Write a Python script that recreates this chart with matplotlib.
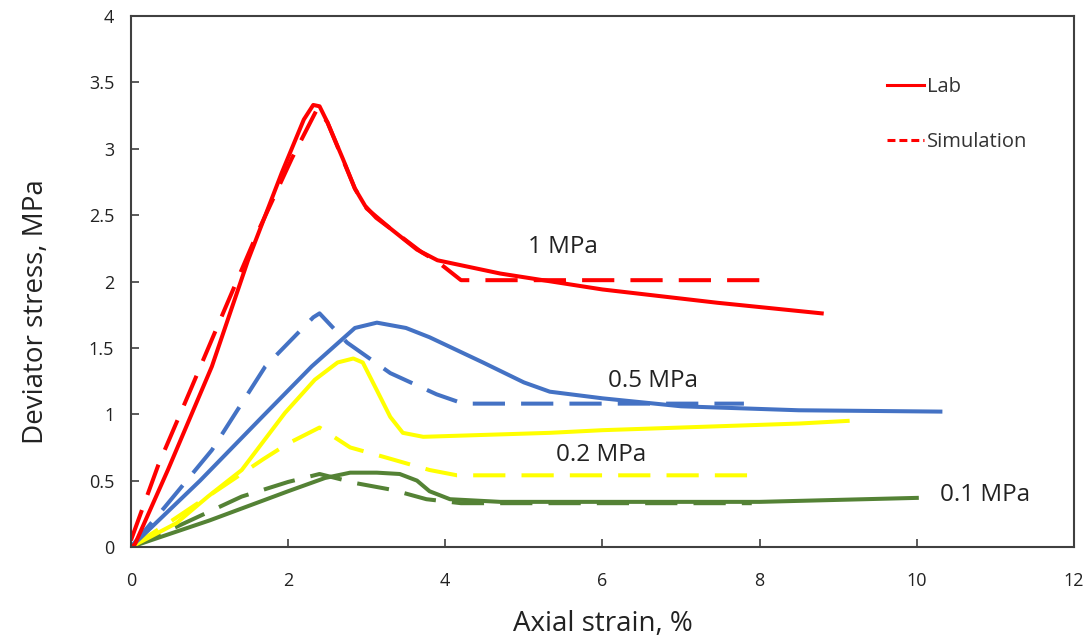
import matplotlib
matplotlib.use("Agg")
import matplotlib.pyplot as plt

plt.rcParams['font.family'] = ['Open Sans', 'DejaVu Sans']

# lab curves (axial strain %, deviator stress MPa)
lab_1_x = [0, 0.05, 0.47, 1.03, 1.49, 1.92, 2.2, 2.32, 2.4, 2.5, 2.7, 2.85, 2.98, 3.12, 3.3, 3.64, 3.9, 4.7, 6.0, 7.46, 8.79]
lab_1_y = [0, 0.02, 0.58, 1.36, 2.16, 2.82, 3.22, 3.33, 3.32, 3.2, 2.92, 2.7, 2.57, 2.48, 2.4, 2.24, 2.16, 2.06, 1.94, 1.84, 1.76]

lab_05_x = [0, 0.88, 1.67, 2.3, 2.85, 3.13, 3.5, 3.8, 4.48, 5.0, 5.33, 6.0, 7.0, 8.5, 10.3]
lab_05_y = [0, 0.5, 0.98, 1.36, 1.65, 1.69, 1.65, 1.58, 1.39, 1.24, 1.17, 1.12, 1.06, 1.03, 1.02]

lab_02_x = [0, 0.58, 0.98, 1.41, 1.96, 2.34, 2.63, 2.83, 2.95, 3.13, 3.3, 3.46, 3.72, 5.33, 6.0, 8.5, 9.12]
lab_02_y = [0, 0.18, 0.38, 0.58, 1.01, 1.26, 1.39, 1.42, 1.39, 1.18, 0.98, 0.86, 0.83, 0.86, 0.88, 0.93, 0.95]

lab_01_x = [0, 1.0, 2.0, 2.47, 2.79, 3.13, 3.42, 3.64, 3.8, 4.06, 4.7, 8.0, 10.0]
lab_01_y = [0, 0.2, 0.42, 0.52, 0.56, 0.56, 0.55, 0.5, 0.42, 0.36, 0.34, 0.34, 0.37]

# simulation curves
sim_1_x = [0, 0.35, 0.77, 1.2, 1.62, 2.05, 2.37, 2.5, 2.85, 3.0, 3.3, 3.7, 3.9, 4.2, 8.0]
sim_1_y = [0.05, 0.62, 1.2, 1.8, 2.38, 2.93, 3.3, 3.2, 2.7, 2.55, 2.4, 2.22, 2.15, 2.01, 2.01]

sim_05_x = [0, 0.43, 1.03, 1.71, 2.32, 2.4, 2.75, 3.3, 3.89, 4.23, 7.8]
sim_05_y = [0, 0.3, 0.73, 1.36, 1.73, 1.76, 1.54, 1.31, 1.15, 1.08, 1.08]

sim_02_x = [0, 0.5, 1.43, 1.68, 2.0, 2.4, 2.79, 3.21, 3.8, 4.15, 7.84]
sim_02_y = [0, 0.19, 0.56, 0.66, 0.78, 0.9, 0.75, 0.68, 0.58, 0.54, 0.54]

sim_01_x = [0, 0.5, 1.41, 2.0, 2.4, 2.87, 3.33, 3.76, 4.2, 7.9]
sim_01_y = [0, 0.13, 0.38, 0.49, 0.55, 0.48, 0.43, 0.36, 0.33, 0.33]

labels = ['1 MPa', '0.5 MPa', '0.2 MPa', '0.1 MPa']
label_x = [5.5, 6.64, 5.98, 10.87]
label_y = [2.26, 1.25, 0.69, 0.39]

RED = '#FF0000'
BLUE = '#4472C4'
YELLOW = '#FFFF00'
GREEN = '#548235'

fig = plt.figure(figsize=(10.91, 6.43), dpi=100)
ax = fig.add_axes([0.120, 0.1493, 0.8644, 0.8258])

lw = 2.9
dash = (0, (8, 4))

ax.plot(sim_01_x, sim_01_y, color=GREEN, lw=lw, ls=dash)
ax.plot(lab_01_x, lab_01_y, color=GREEN, lw=lw)
ax.plot(sim_02_x, sim_02_y, color=YELLOW, lw=lw, ls=dash)
ax.plot(lab_02_x, lab_02_y, color=YELLOW, lw=lw)
ax.plot(sim_05_x, sim_05_y, color=BLUE, lw=lw, ls=dash)
ax.plot(lab_05_x, lab_05_y, color=BLUE, lw=lw)
ax.plot(sim_1_x, sim_1_y, color=RED, lw=lw, ls=dash)
ax.plot(lab_1_x, lab_1_y, color=RED, lw=lw)

for t, x, y in zip(labels, label_x, label_y):
    ax.text(x, y, t, fontsize=17.5, color='#222222', ha='center', va='center')

# legend (red only, like the original)
h1, = ax.plot([], [], color=RED, lw=2.2)
h2, = ax.plot([], [], color=RED, lw=2.2, ls=(0, (2.6, 1.3)))
leg = ax.legend([h1, h2], ['Lab', 'Simulation'], loc='upper left',
                bbox_to_anchor=(0.802, 0.885), frameon=False, fontsize=14.5,
                handlelength=1.8, handletextpad=0.15, labelspacing=1.75,
                borderpad=0, borderaxespad=0)
for txt in leg.get_texts():
    txt.set_color('#333333')

ax.set_xlim(0, 12)
ax.set_ylim(0, 4)
ax.set_xticks([0, 2, 4, 6, 8, 10, 12])
ax.set_yticks([0, 0.5, 1, 1.5, 2, 2.5, 3, 3.5, 4])
ax.set_yticklabels(['0', '0.5', '1', '1.5', '2', '2.5', '3', '3.5', '4'])
ax.tick_params(direction='in', length=6, width=1.2, color='#404040',
               labelsize=13, labelcolor='#222222')
ax.tick_params(axis='x', pad=18)
ax.tick_params(axis='y', pad=12)
for s in ax.spines.values():
    s.set_color('#404040')
    s.set_linewidth(1.5)

ax.set_xlabel('Axial strain, %', fontsize=20, color='#222222')
ax.set_ylabel('Deviator stress, MPa', fontsize=20, color='#222222')
ax.xaxis.set_label_coords(0.5, -0.118)
ax.yaxis.set_label_coords(-0.086, 0.443)

fig.savefig('out.png', dpi=100)
